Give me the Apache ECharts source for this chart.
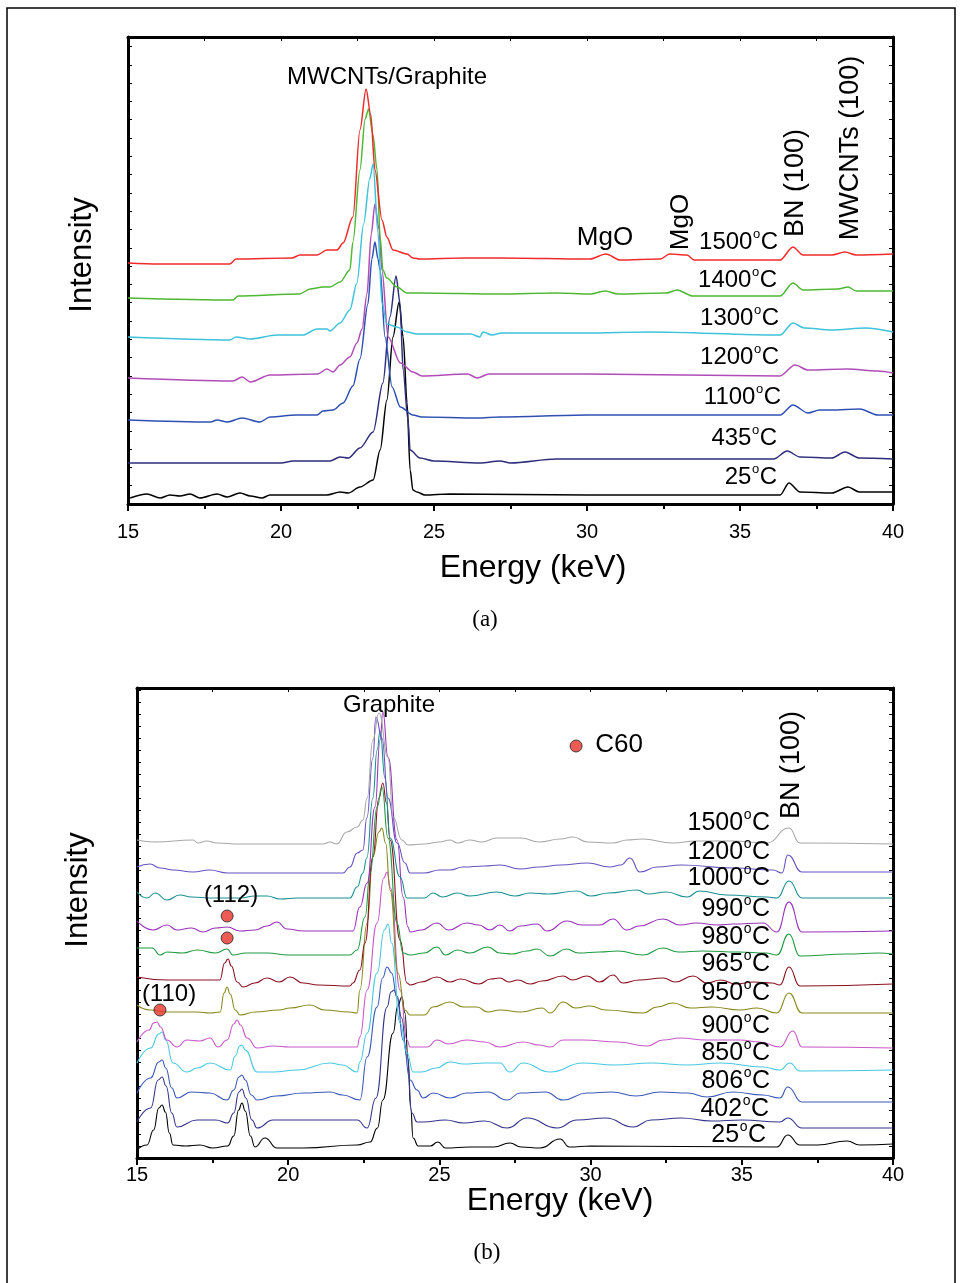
<!DOCTYPE html>
<html><head><meta charset="utf-8">
<script src="https://cdn.jsdelivr.net/npm/echarts@6/dist/echarts.min.js"></script>
<style>html,body{margin:0;padding:0;background:#fff}#c{width:962px;height:1283px}</style>
</head><body><div id="c"></div><script>
// ---------- Panel (a): energy (keV), intensity (a.u.) ----------
const a_25 = [[15.07,6],[15.62,10],[16.05,6],[16.37,9],[16.7,8],[17.03,10],[17.35,6],[17.91,10],[18.24,7],[18.66,11],[19.0,8],[19.38,6],[19.64,9],[20.5,9],[21.5,9],[21.93,12],[22.2,11],[22.58,17],[23.01,24],[23.24,54],[23.46,104],[23.66,167],[23.86,202],[23.99,167],[24.12,101],[24.22,34],[24.31,14],[24.44,12],[24.7,9],[25.5,10],[30,9],[33,9],[36.31,9],[36.6,21],[36.96,12],[38.0,11],[38.53,17],[38.9,12],[40,12]];
const a_435 = [[15,41],[20.0,41],[20.4,43],[21.6,43],[21.93,47],[22.2,46],[22.58,56],[23.01,72],[23.33,121],[23.56,187],[23.76,228],[23.89,201],[23.99,134],[24.15,84],[24.22,54],[24.54,46],[25,43],[26.5,41],[27.16,43],[27.5,41],[29.0,45],[32,45],[36.1,45],[36.54,53],[36.96,47],[38.0,46],[38.43,52],[38.9,46],[40,45]];
const a_1100 = [[15,84],[17.7,82],[17.91,84],[18.24,82],[18.73,86],[19.31,82],[19.64,87],[20.5,89],[21.18,89],[21.37,93],[21.7,94],[22.03,101],[22.35,118],[22.58,145],[22.84,200],[22.97,245],[23.07,262],[23.17,245],[23.24,234],[23.4,167],[23.63,117],[23.9,97],[24.31,89],[24.6,87],[26.4,86],[27.16,87],[30,89],[36.31,89],[36.73,99],[37.22,91],[37.6,94],[38.0,94],[38.92,95],[39.5,89],[40,89]];
const a_1200 = [[15,126],[18.43,123],[18.73,127],[19.0,122],[19.64,129],[21.2,130],[21.5,135],[21.7,132],[21.93,139],[22.25,147],[22.48,161],[22.65,175],[22.81,210],[22.95,270],[23.07,300],[23.2,275],[23.3,234],[23.5,167],[23.9,141],[24.31,132],[24.61,128],[26.1,130],[26.41,126],[26.8,130],[30,130],[36.3,128],[36.8,139],[37.22,134],[38.5,135],[39.5,133],[40,131]];
const a_1300 = [[15,167],[18.33,164],[18.53,167],[19.0,165],[19.87,169],[20.72,169],[21.18,175],[21.5,175],[21.6,173],[21.93,181],[22.25,194],[22.48,221],[22.7,280],[22.9,325],[23.01,340],[23.17,271],[23.3,201],[23.46,180],[23.79,177],[24.12,172],[24.44,170],[26.2,170],[26.5,167],[26.6,172],[26.9,169],[27.2,171],[30,171],[32,172],[36.31,169],[36.73,181],[37.1,176],[38.0,174],[39.1,176],[40,172]];
const a_1400 = [[15,206],[18.43,204],[18.6,208],[20.6,210],[20.95,215],[21.37,217],[21.6,217],[21.93,222],[22.25,234],[22.35,262],[22.58,334],[22.75,385],[22.86,395],[23.0,370],[23.14,334],[23.24,267],[23.33,234],[23.46,226],[23.79,217],[24.12,211],[24.5,211],[27.16,210],[29,211],[30.1,210],[30.6,213],[31,210],[32.6,211],[32.94,214],[33.46,208],[36.31,208],[36.73,221],[37.06,214],[38.2,215],[38.53,217],[38.8,213],[40,213]];
const a_1500 = [[15,241],[16,240],[18.33,240],[18.53,245],[20.36,246],[20.62,249],[21.18,249],[21.5,254],[21.83,254],[22.03,261],[22.35,287],[22.58,374],[22.78,415],[22.93,390],[23.07,334],[23.3,284],[23.46,267],[23.66,254],[24.12,250],[24.31,246],[24.54,245],[26,246],[27.16,246],[30.1,245],[30.62,250],[31.08,244],[32.4,245],[32.7,250],[33.27,249],[33.5,244],[36.31,244],[36.73,257],[37.06,249],[38.0,249],[38.43,252],[38.8,249],[40,250]];
const tempsA = ['25','435','1100','1200','1300','1400','1500'];

// ---------- Panel (b) ----------
const b_25 = [[15.0,8],[15.33,13],[15.55,28],[15.72,50],[15.83,53],[15.94,46],[16.07,25],[16.19,13],[16.6,12],[17.08,13],[17.5,10],[18.0,12],[18.2,22],[18.36,48],[18.47,55],[18.58,47],[18.75,22],[18.9,11],[19.23,20],[19.63,10],[20.5,10],[22.28,13],[22.71,16],[22.95,30],[23.13,58],[23.47,125],[23.62,152],[23.76,161],[23.86,145],[23.96,100],[24.05,50],[24.13,20],[24.3,12],[24.7,12],[24.95,16],[25.2,10],[26,11],[26.8,11],[27.33,15],[27.7,11],[28.33,10],[28.99,19],[29.3,11],[30,12],[36.16,11],[36.52,23],[36.92,13],[37.5,13],[38.48,17],[38.9,13],[40,14]];
const b_402 = [[15,36],[15.45,50],[15.7,78],[15.83,81],[15.96,72],[16.15,45],[16.32,31],[16.98,38],[17.6,38],[18.0,35],[18.2,45],[18.37,66],[18.47,69],[18.6,60],[18.8,38],[18.97,30],[19.5,38],[20.29,38],[21.5,38],[22.28,38],[22.61,30],[22.9,60],[23.27,151],[23.4,166],[23.5,168],[23.6,162],[23.75,140],[23.93,101],[24.09,45],[24.26,36],[24.46,36],[25.2,38],[25.8,35],[26.5,37],[27.24,30],[27.9,40],[28.89,30],[29.55,38],[30.5,40],[31.4,31],[32,38],[33,40],[34,37],[35,38],[36.26,36],[36.52,40],[36.99,30],[40,30]];
const b_806 = [[15,65],[15.45,80],[15.72,96],[15.83,98],[15.95,90],[16.15,70],[16.32,60],[16.8,66],[17.41,65],[17.98,58],[18.2,68],[18.37,81],[18.47,83],[18.58,78],[18.78,63],[18.97,58],[19.6,62],[20.5,65],[21.38,66],[21.8,63],[22.37,58],[22.61,101],[22.94,151],[23.12,180],[23.27,191],[23.42,185],[23.6,160],[23.8,118],[24.03,78],[24.26,68],[24.46,60],[24.8,65],[25.35,60],[25.9,65],[26.6,66],[27.24,58],[27.67,65],[28.5,66],[29.09,58],[29.88,65],[30.7,66],[31.5,62],[32.3,66],[33.2,65],[33.85,61],[34.7,66],[35.7,63],[36.26,60],[36.52,71],[36.99,56],[40,56]];
const b_850 = [[15,95],[15.45,110],[15.72,124],[15.83,126],[15.95,118],[16.19,95],[16.65,86],[17.0,90],[17.41,95],[18.08,88],[18.25,102],[18.4,112],[18.47,113],[18.58,108],[18.97,86],[19.5,86],[20.3,88],[21.38,95],[21.8,93],[22.28,86],[22.37,96],[22.61,125],[22.94,185],[23.18,228],[23.3,234],[23.42,215],[23.7,135],[23.93,105],[24.13,86],[24.4,86],[24.9,90],[25.35,96],[25.8,94],[26.5,95],[27.0,95],[27.33,86],[27.76,95],[28.66,86],[29.75,95],[30.8,93],[32.0,95],[33.2,93],[34.3,95],[35.7,91],[36.26,88],[36.59,95],[36.92,87],[40,88]];
const b_900 = [[15,116],[15.4,128],[15.55,135],[15.66,136],[15.78,131],[15.99,118],[16.32,111],[16.65,118],[17.08,117],[17.41,120],[17.68,111],[17.98,118],[18.2,134],[18.31,138],[18.42,133],[18.64,120],[18.97,110],[19.5,112],[20.06,111],[21.0,111],[22.28,111],[22.37,121],[22.61,168],[22.94,235],[23.16,280],[23.27,286],[23.38,270],[23.7,168],[23.93,118],[24.03,111],[24.6,111],[24.92,118],[25.3,114],[25.9,118],[26.5,116],[27.0,111],[27.76,116],[28.3,113],[28.66,111],[29.09,118],[29.75,118],[30.9,116],[31.86,112],[32.4,118],[32.96,120],[33.8,118],[34.94,118],[35.6,116],[36.26,111],[36.69,127],[36.99,111],[40,110]];
const b_950 = [[15,153],[15.43,148],[16,146],[17,146],[17.41,145],[17.75,146],[17.88,165],[17.98,171],[18.08,164],[18.25,148],[18.41,143],[18.9,146],[19.7,148],[20.06,150],[20.72,153],[21.2,148],[22.0,146],[22.28,145],[22.37,168],[22.61,235],[22.8,301],[23.0,326],[23.1,330],[23.22,315],[23.37,268],[23.63,185],[23.86,148],[24.03,143],[24.5,143],[24.79,151],[25.35,156],[25.8,151],[26.24,151],[26.6,146],[27.0,148],[27.7,146],[28.4,150],[28.66,145],[29.09,156],[29.5,150],[29.98,152],[30.5,148],[31.73,145],[32.2,151],[32.72,155],[33.3,150],[34.0,151],[34.94,148],[35.5,150],[36.16,145],[36.56,165],[36.99,145],[40,145]];
const b_965 = [[15,181],[16,178],[17,178],[17.74,178],[17.9,195],[18.01,199],[18.12,192],[18.31,176],[18.51,171],[18.9,175],[19.3,180],[19.7,176],[20.06,181],[20.49,175],[21.0,173],[22.04,172],[22.14,175],[22.37,188],[22.54,215],[22.8,301],[23.0,360],[23.13,375],[23.25,355],[23.37,318],[23.7,218],[23.93,175],[24.03,173],[24.4,176],[24.92,181],[25.35,176],[25.7,179],[26.3,174],[26.7,179],[27.0,180],[27.3,176],[27.6,178],[28.0,174],[28.4,177],[29.09,182],[29.4,178],[29.88,182],[30.3,176],[30.74,183],[31.07,175],[31.6,178],[32.4,180],[32.8,176],[33.39,182],[33.85,175],[34.3,178],[34.8,174],[35.4,176],[36.0,175],[36.26,173],[36.56,191],[36.92,172],[40,174]];
const b_980 = [[15,210],[15.5,210],[15.76,203],[16.0,206],[16.5,205],[17.0,208],[17.6,205],[17.98,209],[18.17,203],[18.6,205],[19.3,205],[20.0,203],[21.0,203],[22.04,203],[22.28,208],[22.54,241],[22.71,285],[22.94,351],[23.1,371],[23.3,320],[23.6,235],[23.8,205],[24.03,203],[24.5,205],[24.92,211],[25.2,203],[25.6,208],[26.0,205],[26.6,211],[27.0,205],[27.4,204],[27.9,207],[28.23,209],[28.66,202],[29.2,209],[29.6,205],[30.3,206],[30.9,207],[31.73,203],[32.39,210],[32.9,206],[33.7,207],[34.9,206],[35.8,205],[36.16,203],[36.56,224],[36.92,202],[38.5,204],[39.5,205],[40,204]];
const b_990 = [[15,237],[15.53,228],[15.99,233],[16.32,228],[16.8,230],[17.18,226],[17.6,230],[17.98,231],[18.41,227],[18.9,228],[19.3,232],[19.63,236],[19.96,229],[20.5,227],[21.5,227],[22.14,227],[22.37,251],[22.61,275],[22.87,351],[23.04,418],[23.13,446],[23.3,401],[23.6,318],[23.8,261],[23.96,231],[24.03,226],[24.4,228],[24.92,235],[25.3,228],[25.91,235],[26.3,233],[26.67,228],[27.0,233],[27.33,227],[27.67,232],[28.23,234],[28.56,227],[29.22,237],[29.7,233],[30.3,233],[30.74,239],[31.2,228],[31.6,232],[32.39,239],[32.96,233],[33.5,235],[34.2,233],[34.71,234],[35.7,235],[36.16,226],[36.56,256],[36.99,226],[40,227]];
const b_1000 = [[15,266],[15.33,260],[15.6,265],[15.99,258],[16.42,263],[16.8,261],[17.5,260],[18.41,260],[18.9,262],[19.3,262],[19.73,259],[20.3,260],[21.5,260],[22.04,260],[22.28,271],[22.47,285],[22.6,300],[22.8,360],[22.94,408],[23.04,427],[23.2,380],[23.37,320],[23.7,281],[23.93,260],[24.5,260],[24.79,265],[25.1,261],[25.6,265],[26.0,262],[26.9,266],[27.5,262],[28.0,265],[28.6,264],[29.55,267],[30.0,262],[30.6,265],[31.53,268],[31.9,264],[32.5,266],[33.19,261],[33.6,267],[34.5,263],[35.83,261],[36.16,260],[36.56,277],[36.99,260],[40,260]];
const b_1200 = [[15,291],[15.43,294],[15.76,290],[16.2,288],[16.85,286],[17.4,288],[18.0,285],[19.0,285],[20.0,285],[21.81,285],[22.04,291],[22.28,305],[22.47,308],[22.6,340],[22.8,400],[22.9,441],[23.1,420],[23.3,360],[23.6,315],[23.86,295],[24.03,285],[24.5,285],[25.0,288],[25.35,288],[25.78,291],[26.5,292],[27.0,293],[27.67,289],[28.3,291],[29.0,293],[29.9,295],[30.64,291],[31.0,293],[31.3,300],[31.63,286],[32.2,291],[33.0,293],[34.71,290],[36.03,288],[36.33,285],[36.52,303],[36.99,286],[40,286]];
const b_1500 = [[15,318],[15.6,316],[16.85,318],[17.02,315],[17.3,317],[17.65,315],[18.41,314],[19.5,314],[20.5,314],[21.15,314],[21.38,316],[21.6,314],[21.94,326],[22.28,331],[22.47,338],[22.61,360],[22.8,418],[23.0,445],[23.3,401],[23.47,341],[23.76,318],[23.96,313],[24.5,314],[25.0,316],[25.35,318],[25.6,315],[26.0,318],[26.4,316],[26.9,320],[27.7,320],[28.3,316],[29.0,319],[29.42,321],[29.9,316],[30.74,315],[31.2,318],[31.7,319],[32.72,315],[33.5,317],[34.7,317],[35.83,315],[36.56,330],[36.92,315],[40,314]];
const tempsB = ['25','402','806','850','900','950','965','980','990','1000','1200','1500'];
// C60 reflection markers (keV, intensity) and legend marker
const c60Dots = [[17.98,242],[17.98,220],[15.76,148]];
const c60Legend = [[29.52,412]];
const xTicks = [15,20,25,30,35,40];

// ---------- build ----------
const FONT = '"Liberation Sans", Arial, sans-serif';
const NARROW = '"Liberation Sans Narrow", "Liberation Sans", Arial, sans-serif';
const colorsA = ['#000000','#2d2d7c','#2f50b2','#b04cb8','#3fc2da','#4db832','#f02a2a'];
const dataA = [a_25,a_435,a_1100,a_1200,a_1300,a_1400,a_1500];
const colorsB = ['#000000','#34348a','#3a58b8','#48c8e0','#c858c8','#88881e','#8c1020','#1e9a40','#9933bb','#1a9090','#6652c0','#a8a8a8'];
const dataB = [b_25,b_402,b_806,b_850,b_900,b_950,b_965,b_980,b_990,b_1000,b_1200,b_1500];

const series = [];
dataA.forEach((d,i)=>series.push({type:'line',name:'a'+tempsA[i],xAxisIndex:0,yAxisIndex:0,data:d,symbol:'none',smooth:0.3,smoothMonotone:'x',silent:true,lineStyle:{width:1.5,color:colorsA[i]}}));
dataB.forEach((d,i)=>series.push({type:'line',name:'b'+tempsB[i],xAxisIndex:2,yAxisIndex:2,data:d,symbol:'none',smooth:0.5,smoothMonotone:'x',silent:true,lineStyle:{width:1.1,color:colorsB[i]}}));
series.push({type:'scatter',xAxisIndex:2,yAxisIndex:2,data:c60Dots.concat(c60Legend),symbolSize:12,z:10,silent:true,itemStyle:{color:'#e8322a',borderColor:'#222',borderWidth:1}});

function bottomAxis(g, margin, fs){
  return {gridIndex:g,type:'value',min:15,max:40,interval:5,position:'bottom',
    axisLine:{onZero:false,lineStyle:{color:'#000',width:3}},
    axisTick:{inside:false,length:7,lineStyle:{color:'#000',width:2}},
    minorTick:{show:true,splitNumber:2,length:5,lineStyle:{color:'#000',width:2}},
    axisLabel:{color:'#000',fontSize:fs,fontFamily:NARROW,margin:margin,formatter:v=>xTicks.includes(v)?String(v):''},
    splitLine:{show:false},minorSplitLine:{show:false}};
}
function topAxis(g){
  return {gridIndex:g,type:'value',min:15,max:40,interval:2.5,position:'top',
    axisLine:{onZero:false,lineStyle:{color:'#000',width:3}},
    axisTick:{inside:true,length:4,lineStyle:{color:'#000',width:1}},
    axisLabel:{show:false},splitLine:{show:false}};
}
function yAx(g,pos,max,step){
  return {gridIndex:g,type:'value',min:0,max:max,interval:step,position:pos,
    axisLine:{show:true,onZero:false,lineStyle:{color:'#000',width:3}},
    axisTick:{show:true,inside:true,length:4,lineStyle:{color:'#000',width:1}},
    axisLabel:{show:false},splitLine:{show:false}};
}

function txt(t,x,y,size,opt){
  opt=opt||{};
  return {type:'text',x:x,y:y,rotation:opt.rot||0,z:20,silent:true,
    style:{text:t,fontSize:size,fontFamily:opt.font||FONT,fill:'#000',
      align:opt.align||'center',verticalAlign:opt.va||'middle',textAlign:opt.align||'center',textVerticalAlign:opt.va||'middle'}};
}
const mctx = document.createElement('canvas').getContext('2d');
function tw(t,size){ mctx.font = size+'px "Liberation Sans", Arial, sans-serif'; return mctx.measureText(t).width; }
// temperature label: digits + raised small "o" + "C", right edge at x
function temp(t,x,y,size){
  const ss = Math.round(size*0.55);
  const wC = tw('C',size), wo = tw('o',ss);
  return [
    txt('C',x,y,size,{align:'right'}),
    txt('o',x-wC-0.5,y-size*0.6,ss,{align:'right',va:'top'}),
    txt(t,x-wC-wo-1,y,size,{align:'right'})
  ];
}
const R = Math.PI/2;
const tempPosA = [[777,477],[777,438],[781,397],[779,357],[779,318],[777,280],[778,242]];
const tempPosB = [[766,1135],[769,1109],[770,1081],[770,1053],[770,1026],[770,993],[770,964],[770,937],[770,909],[770,878],[770,852],[770,823]];

let graphic = [
  {type:'rect',shape:{x:7,y:8,width:948,height:1300},style:{fill:'none',stroke:'#000',lineWidth:1.5},silent:true,z:0},
  txt('MWCNTs/Graphite',387,77,24),
  txt('MgO',605,238,26),
  txt('MgO',681,222,26,{rot:R}),
  txt('BN (100)',796,183,27,{rot:R}),
  txt('MWCNTs (100)',851,148,27,{rot:R}),
  txt('Intensity',82,255,31,{rot:R}),
  txt('Energy (keV)',533,568,32,{font:NARROW}),
  txt('(a)',485,620,23,{font:'"Liberation Serif", serif'}),
  txt('Graphite',389,705,24),
  txt('C60',619,745,26),
  txt('BN (100)',792,765,27,{rot:R}),
  txt('(112)',231,895,24),
  txt('(110)',169,994,24),
  txt('Intensity',78,890,31,{rot:R}),
  txt('Energy (keV)',560,1201,32,{font:NARROW}),
  txt('(b)',487,1253,23,{font:'"Liberation Serif", serif'})
];
tempsA.forEach((t,i)=>{ graphic = graphic.concat(temp(t,tempPosA[i][0],tempPosA[i][1],24)); });
tempsB.forEach((t,i)=>{ graphic = graphic.concat(temp(t,tempPosB[i][0],tempPosB[i][1],25)); });

const chart = echarts.init(document.getElementById('c'),null,{renderer:'canvas'});
chart.setOption({
  animation:false,
  backgroundColor:'#fff',
  grid:[{left:128,top:37,width:765,height:467},{left:137,top:688,width:756,height:470}],
  xAxis:[bottomAxis(0,18,20),topAxis(0),bottomAxis(1,7,20),topAxis(1)],
  yAxis:[yAx(0,'left',467,18.3),yAx(0,'right',467,18.3),yAx(1,'left',470,12),yAx(1,'right',470,12)],
  series:series,
  graphic:graphic
});
</script></body></html>
